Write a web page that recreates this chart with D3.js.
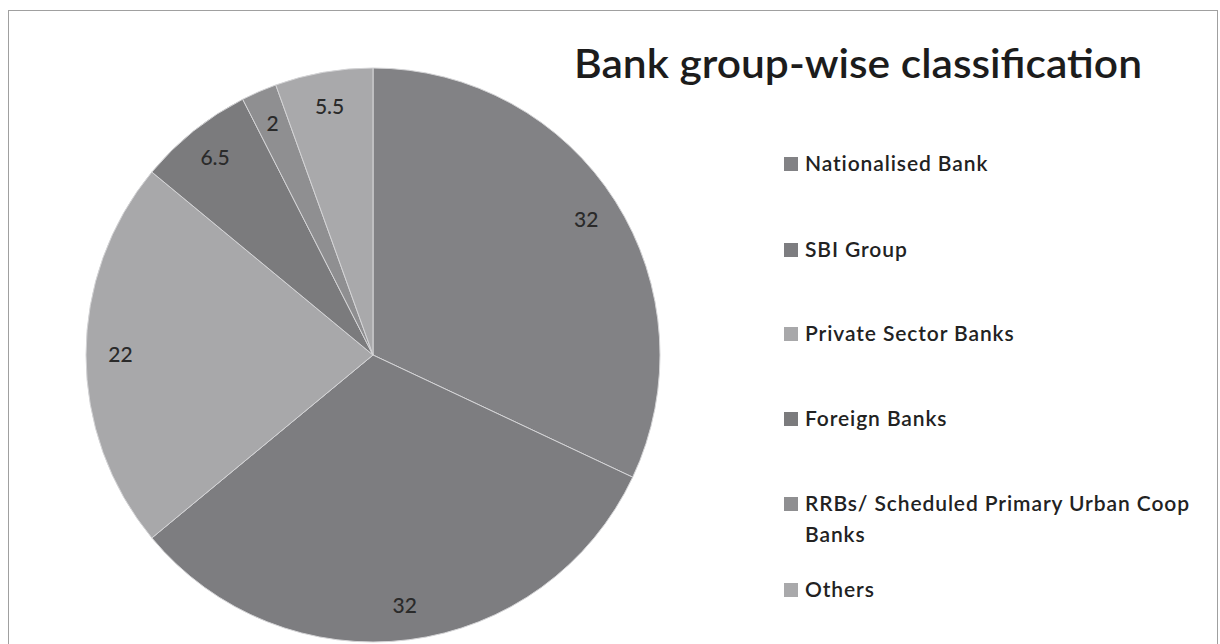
<!DOCTYPE html>
<html>
<head>
<meta charset="utf-8">
<script src="https://cdn.jsdelivr.net/npm/d3@7"></script>
<style>
  html, body { margin: 0; padding: 0; background: #fff; }
  svg { display: block; }
  text { font-family: Lato, "Open Sans", sans-serif; }
</style>
</head>
<body>
<svg id="chart" width="1220" height="644"></svg>
<script>
// Bank group-wise share (per cent)
const categories = [
  "Nationalised Bank",
  "SBI Group",
  "Private Sector Banks",
  "Foreign Banks",
  "RRBs/ Scheduled Primary Urban Coop Banks",
  "Others"
];
const values = [32, 32, 22, 6.5, 2, 5.5];
const legendLines = [
  ["Nationalised Bank"],
  ["SBI Group"],
  ["Private Sector Banks"],
  ["Foreign Banks"],
  ["RRBs/ Scheduled Primary Urban Coop", "Banks"],
  ["Others"]
];
const sliceColors = ["#828285", "#7d7d80", "#a8a8aa", "#7b7b7d", "#8f8f91", "#a9a9ab"];
const title = "Bank group-wise classification";

const svg = d3.select("#chart");

// outer frame
svg.append("rect")
  .attr("x", 8.5).attr("y", 10.5)
  .attr("width", 1209).attr("height", 660)
  .attr("fill", "#fff")
  .attr("stroke", "#a0a0a0").attr("stroke-width", 1);

// title
svg.append("text")
  .attr("x", 574).attr("y", 78)
  .attr("font-size", 40)
  .attr("font-weight", 600)
  .attr("fill", "#1c1c1c")
  .attr("textLength", 568)
  .attr("lengthAdjust", "spacingAndGlyphs")
  .text(title);

// pie
const cx = 373, cy = 355, r = 287;
const pie = d3.pie().sort(null).value(d => d)(values);
const arc = d3.arc().innerRadius(0).outerRadius(r);
const labelArc = d3.arc().innerRadius(r * 0.88).outerRadius(r * 0.88);
const color = d3.scaleOrdinal().domain(categories).range(sliceColors);

const g = svg.append("g").attr("transform", `translate(${cx},${cy})`);
g.selectAll("path.slice")
  .data(pie)
  .join("path")
  .attr("class", "slice")
  .attr("d", arc)
  .attr("fill", (d, i) => color(categories[i]))
  .attr("stroke", "#d4d4d6")
  .attr("stroke-width", 1);

g.selectAll("text.value")
  .data(pie)
  .join("text")
  .attr("class", "value")
  .attr("transform", d => `translate(${labelArc.centroid(d)})`)
  .attr("text-anchor", "middle")
  .attr("dy", "0.35em")
  .attr("font-size", 21)
  .attr("font-weight", 500)
  .attr("fill", "#2a2a2a")
  .text(d => d.data);

// legend
const rowCenters = [164, 250, 334, 419, 504, 590];
const lg = svg.append("g");
categories.forEach((c, i) => {
  const y = rowCenters[i];
  lg.append("rect")
    .attr("x", 784).attr("y", y - 7)
    .attr("width", 14).attr("height", 14)
    .attr("fill", color(c));
  const t = lg.append("text")
    .attr("x", 805).attr("y", y + 7)
    .attr("font-size", 21)
    .attr("font-weight", 600)
    .attr("letter-spacing", 0.9)
    .attr("fill", "#222");
  legendLines[i].forEach((line, j) => {
    t.append("tspan").attr("x", 805).attr("dy", j === 0 ? 0 : 31).text(line);
  });
});
</script>
</body>
</html>
